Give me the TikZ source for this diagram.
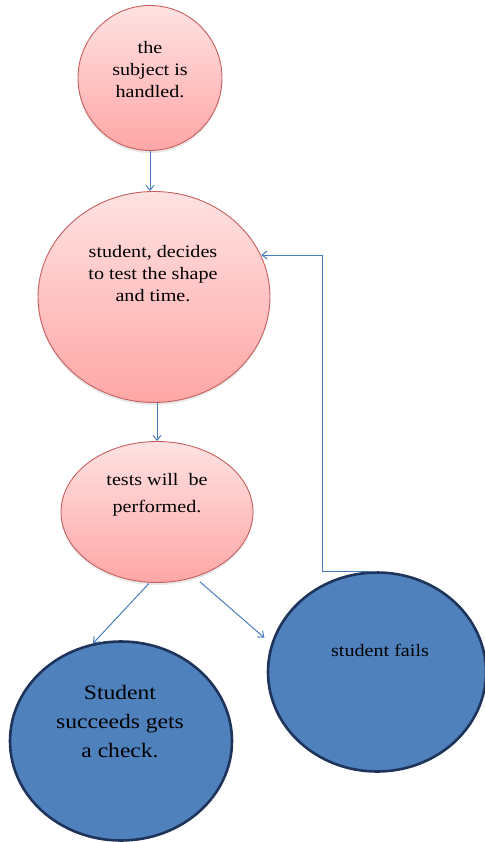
\documentclass[tikz,border=0pt]{standalone}
\usepackage{fontspec}
\setmainfont[FakeStretch=1.15]{Liberation Serif}
\usetikzlibrary{shapes.geometric,arrows.meta,shadows}
\definecolor{pinktop}{RGB}{255,226,226}
\definecolor{pinkbot}{RGB}{255,166,166}
\definecolor{pinkline}{RGB}{200,95,95}
\definecolor{bluefill}{RGB}{79,129,189}
\definecolor{blueline}{RGB}{30,52,90}
\definecolor{arrowblue}{RGB}{74,126,187}
\tikzset{
  pinknode/.style={ellipse, inner sep=0pt, draw=pinkline, line width=0.9pt,
    top color=pinktop, bottom color=pinkbot,
    drop shadow={opacity=0.18, shadow xshift=0pt, shadow yshift=-2.5pt}},
  bluenode/.style={ellipse, inner sep=0pt, draw=blueline, line width=2.6pt, fill=bluefill},
  txt/.style={align=center, inner sep=0pt, font=\fontsize{17.5}{22}\selectfont},
  bigtxt/.style={align=center, inner sep=0pt, font=\fontsize{20.5}{29}\selectfont},
  arr/.style={draw=arrowblue, line width=1pt, -{Straight Barb[length=5pt,width=8pt]}}
}
\begin{document}
\begin{tikzpicture}[x=1pt,y=-1pt]
\useasboundingbox (0,0) rectangle (484,842);
% nodes
\node[pinknode, minimum width=144pt, minimum height=145pt] (c1) at (150,78) {};
\node[pinknode, minimum width=232pt, minimum height=211pt] (c2) at (154,297) {};
\node[pinknode, minimum width=192pt, minimum height=141pt] (c3) at (157,512) {};
\node[bluenode, minimum width=222pt, minimum height=199pt] (c4) at (121,741) {};
\node[bluenode, minimum width=218pt, minimum height=199pt] (c5) at (377,672) {};
% texts
\node[txt] (t1) at (150,70) {the\\subject is\\handled.};
\node[txt] (t2) at (153,274) {student, decides\\to test the shape\\and time.};
\node[txt, font=\fontsize{17.5}{27}\selectfont] (t3) at (157,495) {tests will \ be\\performed.};
\node[bigtxt] (t4) at (120,722) {Student\\succeeds gets\\a check.};
\node[txt] (t5) at (380,650) {student fails};
% connectors
\coordinate (fb) at (322,255);
\draw[arr] (c1.south) -- (c1.south |- c2.north);
\draw[arr] (c3.north |- c2.south) -- (c3.north);
\draw[arr, shorten <=1pt] (c3.264) -- (c4.106);
\draw[arr, shorten <=7pt, shorten >=9pt] (c3.300) -- (c5.165);
\draw[arr] (c5.north) -| (fb) -- (fb -| c2.21.6);
\end{tikzpicture}
\end{document}
